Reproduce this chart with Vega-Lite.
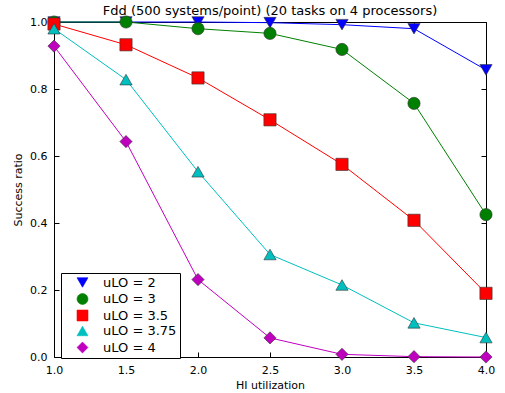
{
  "$schema": "https://vega.github.io/schema/vega-lite/v6.json",
  "autosize": {"type": "none"},
  "padding": {"left": 54, "top": 22, "right": 19, "bottom": 36},
  "width": 432,
  "height": 335,
  "title": {"text": "Fdd (500 systems/point) (20 tasks on 4 processors)", "font": "DejaVu Sans", "fontSize": 13, "fontWeight": "normal", "color": "black", "offset": -3},
  "config": {
    "view": {"stroke": "black", "strokeWidth": 1},
    "font": "DejaVu Sans",
    "axis": {"labelFont": "DejaVu Sans", "titleFont": "DejaVu Sans", "labelFontSize": 11, "titleFontSize": 11, "titleFontWeight": "normal", "labelColor": "black", "titleColor": "black", "grid": false, "domain": false, "tickColor": "black", "tickSize": -5, "labelPadding": 12, "labelFlush": false},
    "legend": {"labelFont": "DejaVu Sans", "labelFontSize": 13, "labelColor": "black"}
  },
  "data": {"values": [
    {"s": "uLO = 2", "x": 1.0, "y": 1.0},
    {"s": "uLO = 2", "x": 1.5, "y": 1.0},
    {"s": "uLO = 2", "x": 2.0, "y": 1.0},
    {"s": "uLO = 2", "x": 2.5, "y": 0.998},
    {"s": "uLO = 2", "x": 3.0, "y": 0.992},
    {"s": "uLO = 2", "x": 3.5, "y": 0.98},
    {"s": "uLO = 2", "x": 4.0, "y": 0.857},
    {"s": "uLO = 3", "x": 1.0, "y": 1.0},
    {"s": "uLO = 3", "x": 1.5, "y": 1.0},
    {"s": "uLO = 3", "x": 2.0, "y": 0.98},
    {"s": "uLO = 3", "x": 2.5, "y": 0.966},
    {"s": "uLO = 3", "x": 3.0, "y": 0.918},
    {"s": "uLO = 3", "x": 3.5, "y": 0.757},
    {"s": "uLO = 3", "x": 4.0, "y": 0.425},
    {"s": "uLO = 3.5", "x": 1.0, "y": 0.994},
    {"s": "uLO = 3.5", "x": 1.5, "y": 0.932},
    {"s": "uLO = 3.5", "x": 2.0, "y": 0.833},
    {"s": "uLO = 3.5", "x": 2.5, "y": 0.708},
    {"s": "uLO = 3.5", "x": 3.0, "y": 0.575},
    {"s": "uLO = 3.5", "x": 3.5, "y": 0.408},
    {"s": "uLO = 3.5", "x": 4.0, "y": 0.19},
    {"s": "uLO = 3.75", "x": 1.0, "y": 0.98},
    {"s": "uLO = 3.75", "x": 1.5, "y": 0.828},
    {"s": "uLO = 3.75", "x": 2.0, "y": 0.553},
    {"s": "uLO = 3.75", "x": 2.5, "y": 0.306},
    {"s": "uLO = 3.75", "x": 3.0, "y": 0.215},
    {"s": "uLO = 3.75", "x": 3.5, "y": 0.102},
    {"s": "uLO = 3.75", "x": 4.0, "y": 0.058},
    {"s": "uLO = 4", "x": 1.0, "y": 0.928},
    {"s": "uLO = 4", "x": 1.5, "y": 0.643},
    {"s": "uLO = 4", "x": 2.0, "y": 0.231},
    {"s": "uLO = 4", "x": 2.5, "y": 0.057},
    {"s": "uLO = 4", "x": 3.0, "y": 0.008},
    {"s": "uLO = 4", "x": 3.5, "y": 0.001},
    {"s": "uLO = 4", "x": 4.0, "y": 0.0}
  ]},
  "layer": [
    {
      "mark": {"type": "line", "strokeWidth": 1, "clip": false},
      "encoding": {
        "x": {"field": "x", "type": "quantitative", "scale": {"domain": [1, 4], "nice": false, "zero": false}, "axis": {"title": "HI utilization", "values": [1, 1.5, 2, 2.5, 3, 3.5, 4], "format": ".1f", "titlePadding": 4}},
        "y": {"field": "y", "type": "quantitative", "scale": {"domain": [0, 1], "nice": false}, "axis": {"title": "Success ratio", "values": [0, 0.2, 0.4, 0.6, 0.8, 1.0], "format": ".1f", "titlePadding": 6}},
        "color": {"field": "s", "type": "nominal", "scale": {"domain": ["uLO = 2", "uLO = 3", "uLO = 3.5", "uLO = 3.75", "uLO = 4"], "range": ["#0000ff", "#008000", "#ff0000", "#00bfbf", "#bf00bf"]}, "legend": {
          "title": null, "orient": "none", "legendX": 7, "legendY": 251,
          "strokeColor": "black", "fillColor": "white", "padding": 3,
          "symbolSize": 120, "rowPadding": 1.5, "symbolOffset": 12, "labelOffset": 14,
          "symbolStrokeColor": "#333333", "symbolStrokeWidth": 0.6
        }},
        "detail": {"field": "s"}
      }
    },
    {
      "mark": {"type": "point", "filled": true, "opacity": 1, "size": 150, "stroke": "#333333", "strokeWidth": 0.6, "clip": false},
      "encoding": {
        "x": {"field": "x", "type": "quantitative", "axis": {"orient": "top", "labels": false, "title": null, "values": [1, 1.5, 2, 2.5, 3, 3.5, 4]}},
        "y": {"field": "y", "type": "quantitative", "axis": {"orient": "right", "labels": false, "title": null, "values": [0, 0.2, 0.4, 0.6, 0.8, 1.0]}},
        "color": {"field": "s", "type": "nominal"},
        "shape": {"field": "s", "type": "nominal", "scale": {"domain": ["uLO = 2", "uLO = 3", "uLO = 3.5", "uLO = 3.75", "uLO = 4"], "range": ["triangle-down", "circle", "square", "triangle-up", "diamond"]}}
      }
    }
  ],
  "resolve": {"axis": {"x": "independent", "y": "independent"}}
}
